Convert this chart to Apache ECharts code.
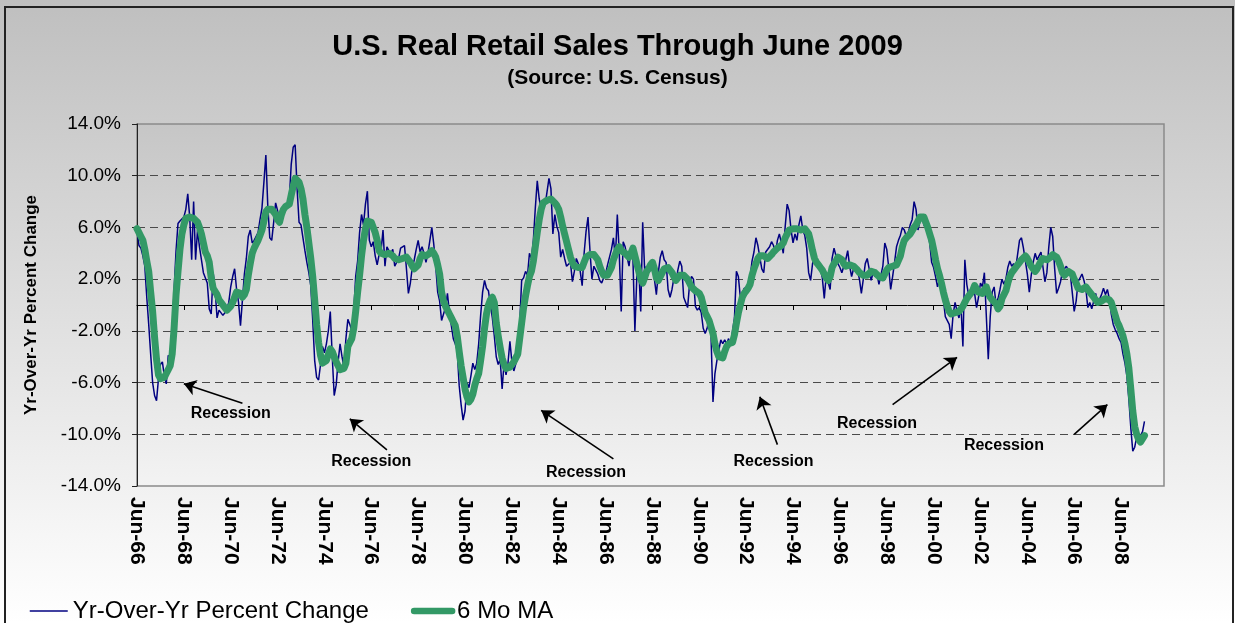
<!DOCTYPE html>
<html>
<head>
<meta charset="utf-8">
<title>U.S. Real Retail Sales Through June 2009</title>
<script src="https://cdn.jsdelivr.net/npm/echarts@6/dist/echarts.min.js"></script>
<style>
  html, body { margin: 0; padding: 0; background: #fff; }
  #chart { width: 1235px; height: 623px; }
</style>
</head>
<body>
<div id="chart"></div>
<script>
// monthly data, Jun-66 .. Jun-09 (one row = one year starting in June)
const yoyChange = [
  5.8, 4.6, 4.4, 3.8, 3.0, 0.6, -1.5, -3.8, -6.0, -7.0, -7.4, -5.7,
  -4.6, -4.4, -5.5, -6.1, -3.9, -4.2, -2.5, 1.2, 4.2, 6.3, 6.5, 6.4,
  6.8, 7.4, 8.6, 6.8, 3.5, 8.0, 3.5, 5.8, 4.5, 3.5, 2.5, 2.5,
  1.7, -0.3, -0.7, 2.5, 1.2, -1.0, -0.4, -0.3, -0.8, -0.6, -0.3, 0.2,
  1.4, 2.2, 2.8, 1.2, 0.2, -1.6, 0.4, 2.4, 3.6, 5.3, 5.8, 4.8,
  5.0, 5.0, 5.6, 6.6, 7.5, 9.5, 11.6, 7.6, 5.2, 5.0, 6.4, 7.9,
  7.3, 6.3, 7.2, 7.5, 7.8, 7.6, 8.2, 10.9, 12.2, 12.4, 9.0, 6.4,
  6.2, 5.2, 4.2, 3.3, 2.5, 1.5, -1.2, -4.3, -5.6, -5.8, -4.6, -3.2,
  -3.7, -3.0, -2.0, -0.5, -4.0, -7.0, -6.2, -4.4, -3.0, -4.0, -4.8, -2.6,
  -1.1, -1.5, -2.0, -0.5, 2.2, 3.4, 5.6, 7.0, 6.2, 7.8, 8.8, 5.0,
  4.5, 4.9, 3.8, 3.1, 3.9, 4.2, 5.8, 3.0, 4.5, 4.2, 4.0, 4.3,
  3.0, 2.9, 3.6, 4.4, 4.5, 4.6, 2.8, 0.9, 1.7, 2.9, 3.5, 4.3,
  5.0, 4.1, 4.5, 4.0, 3.3, 4.0, 5.0, 6.0, 4.7, 3.0, 1.0, 0.3,
  -1.2, -1.3, -0.2, 0.9, -0.6, -1.6, -2.6, -3.0, -3.5, -6.2, -7.7, -8.9,
  -8.2, -6.0, -6.4, -5.5, -4.5, -5.0, -4.5, -3.0, -0.8, 1.0, 1.9, 1.3,
  1.1, 0.0, -1.0, -2.4, -4.0, -4.6, -4.2, -6.5, -4.5, -5.4, -4.5, -2.8,
  -4.4, -5.1, -5.2, -4.0, -1.5, 1.9, 2.1, 2.6, 2.3, 4.0, 3.6, 5.0,
  7.5, 9.6, 8.2, 7.4, 7.9, 7.7, 7.6, 9.8, 9.0, 5.5, 7.0, 6.1,
  5.6, 3.7, 4.3, 3.6, 3.0, 2.9, 3.3, 1.8, 2.6, 3.6, 3.2, 2.6,
  1.5, 4.0, 5.7, 6.8, 4.2, 2.0, 3.0, 2.7, 2.4, 1.9, 1.7, 2.1,
  2.4, 3.1, 3.2, 4.3, 5.2, 3.6, 7.0, 4.0, -0.5, 4.9, 4.5, 3.7,
  3.0, 4.3, 3.6, -2.0, 2.2, 2.8, -0.5, 6.4, 2.7, 3.0, 2.5, 2.8,
  3.3, 2.0, 0.8, 2.5, 3.7, 4.2, 3.5, 3.3, 1.2, 0.6, 1.2, 2.1,
  1.7, 2.7, 3.4, 3.0, 0.6, 0.2, -0.2, 1.6, 2.2, 2.0, -0.1, -0.4,
  -0.2, -0.6, -1.8, -2.2, -1.8, -1.0, -2.4, -7.5, -5.3, -4.3, -3.5, -2.7,
  -3.0, -2.7, -3.0, -2.6, -3.1, -3.0, -1.0, 2.6, 2.2, 0.6, 0.9, 1.3,
  1.2, 1.3, 2.1, 3.4, 4.1, 5.2, 4.6, 4.5, 2.8, 2.5, 4.1, 4.2,
  4.5, 4.9, 4.6, 4.0, 5.0, 5.5, 4.8, 4.0, 6.1, 7.8, 7.3, 5.8,
  4.8, 5.5, 5.0, 6.2, 6.9, 5.8, 5.4, 4.4, 2.5, 1.9, 3.2, 3.8,
  3.5, 3.4, 2.8, 2.1, 0.5, 2.3, 2.3, 1.2, 3.6, 4.4, 4.3, 3.2,
  2.9, 2.5, 2.6, 3.5, 4.2, 3.0, 2.2, 2.8, 3.1, 2.7, 2.0, 0.9,
  2.0, 3.2, 3.6, 2.8, 1.9, 2.5, 2.2, 2.4, 1.6, 1.5, 3.0, 4.8,
  4.3, 2.9, 1.2, 2.2, 3.3, 4.5, 5.0, 5.4, 6.0, 5.8, 5.3, 5.6,
  6.2, 6.6, 8.0, 7.4, 5.8, 6.5, 7.0, 6.2, 6.0, 5.6, 4.8, 3.3,
  2.9, 2.2, 1.4, 2.0, 1.4, 0.4, -0.9, -1.0, -1.5, -2.6, -0.7, 0.2,
  -0.5, -1.0, 0.0, -3.2, 3.5, 1.6, 0.7, 1.2, 1.4, 0.9, -0.2, 0.6,
  1.7, 1.4, 2.5, 2.6, -4.2, -0.9, 1.0, 1.4, 0.0, 0.5, 1.2, 2.0,
  1.6, 2.0, 2.9, 3.4, 3.0, 3.2, 2.8, 3.9, 5.0, 5.2, 4.4, 4.4,
  2.4, 1.0, 2.3, 3.3, 4.0, 3.5, 3.8, 4.1, 4.0, 1.8, 2.5, 4.5,
  6.0, 5.3, 2.8, 0.9, 1.3, 1.8, 2.6, 2.5, 3.0, 2.9, 2.4, 1.0,
  -0.5, 0.3, 1.8, 1.8, 2.4, 1.9, 1.2, -0.2, 0.2, -0.3, -0.2, 0.9,
  0.1, 0.2, 0.8, 1.3, 0.8, 1.2, 0.5, -0.7, -1.5, -1.9, -2.2, -2.6,
  -2.9, -3.8, -4.5, -5.5, -7.3, -9.5, -11.3, -11.0, -10.2, -10.5, -10.1, -9.8,
  -9.0
]

const movingAvg6 = [
  5.9, 5.6, 5.3, 5.0, 4.3, 3.4, 2.6, 1.0, -0.5, -2.5, -4.2, -5.4,
  -5.7, -5.8, -5.6, -5.3, -5.0, -4.7, -3.8, -1.8, 0.8, 2.6, 4.3, 5.5,
  6.2, 6.7, 6.8, 6.8, 6.8, 6.7, 6.6, 6.4, 6.0, 5.5, 4.8, 4.1,
  3.8, 3.3, 2.1, 1.3, 1.2, 0.8, 0.4, 0.2, 0.1, -0.2, -0.4, -0.4,
  -0.1, 0.2, 0.6, 1.0, 1.1, 0.9, 0.6, 0.8, 1.2, 2.3, 3.2, 4.0,
  4.4, 4.7, 5.0, 5.4, 5.8, 6.5, 7.2, 7.4, 7.5, 7.4, 7.2, 7.0,
  6.6, 6.4, 7.0, 7.4, 7.6, 7.7, 7.8, 8.5, 9.2, 9.8, 9.7, 9.5,
  9.0, 8.2, 7.0, 6.0, 4.8, 3.6, 2.2, 0.4, -1.5, -2.9, -3.9, -4.5,
  -4.5, -4.3, -3.8, -3.4, -3.6, -4.0, -4.4, -4.7, -5.0, -5.1, -4.9, -4.5,
  -3.2, -2.9, -2.6, -1.8, -0.5, 1.0, 2.3, 3.8, 5.0, 5.9, 6.5, 6.6,
  6.4, 6.0, 5.6, 5.0, 4.2, 4.0, 4.1, 3.9, 3.8, 4.0, 4.0, 3.8,
  3.6, 3.5, 3.5, 3.5, 3.6, 3.6, 3.7, 3.6, 3.3, 3.0, 2.8, 2.7,
  3.1, 3.6, 3.9, 3.9, 3.8, 3.9, 4.0, 4.2, 4.0, 3.7, 3.1, 2.4,
  1.0, 0.3, -0.1, -0.4, -0.7, -1.0, -1.3, -1.6, -2.4, -3.6, -4.7, -5.6,
  -6.5, -7.1, -7.5, -7.3, -6.9, -6.2, -5.7, -5.3, -4.3, -3.2, -1.8, -0.7,
  0.0, 0.4, 0.6, 0.2, -1.4, -2.4, -3.3, -4.1, -4.6, -4.9, -4.9, -4.8,
  -4.6, -4.4, -4.3, -3.8, -2.6, -1.4, -0.2, 0.7, 1.5, 2.2, 2.6, 3.4,
  4.5, 5.6, 6.6, 7.4, 7.9, 8.0, 8.1, 8.2, 8.2, 8.1, 7.9, 7.7,
  7.4, 6.8, 6.1, 5.5, 4.9, 4.3, 3.7, 3.3, 3.0, 2.9, 2.9, 2.9,
  2.9, 3.3, 3.7, 3.8, 3.9, 4.0, 3.9, 3.8, 3.5, 3.0, 2.6, 2.3,
  2.3, 2.3, 2.4, 2.9, 3.5, 3.9, 4.3, 4.5, 4.2, 4.1, 4.0, 3.9,
  3.7, 4.0, 4.4, 3.8, 3.2, 2.6, 2.0, 1.7, 2.1, 2.6, 2.8, 3.1,
  3.3, 2.8, 2.1, 1.9, 2.2, 2.5, 2.8, 2.9, 2.9, 2.8, 2.5, 2.2,
  1.9, 2.0, 2.3, 2.4, 2.3, 2.2, 2.0, 1.7, 1.4, 1.3, 1.1, 1.0,
  0.9, 0.6, 0.0, -0.6, -0.9, -1.2, -1.7, -2.2, -3.0, -3.6, -4.0, -4.1,
  -4.1, -3.6, -3.2, -3.0, -2.9, -2.9, -2.3, -1.4, -0.6, 0.0, 0.6, 0.9,
  1.1, 1.3, 1.6, 2.3, 2.8, 3.2, 3.6, 3.8, 3.8, 3.8, 3.7, 3.6,
  3.7, 3.9, 4.1, 4.2, 4.4, 4.5, 4.6, 4.8, 5.2, 5.5, 5.8, 5.9,
  5.9, 5.9, 5.9, 5.9, 5.8, 5.8, 5.9, 5.8, 5.5, 4.9, 4.2, 3.6,
  3.3, 3.1, 2.9, 2.7, 2.4, 2.1, 1.9, 2.2, 2.9, 3.2, 3.4, 3.7,
  3.7, 3.5, 3.2, 3.0, 3.1, 3.1, 3.0, 3.0, 2.9, 2.7, 2.5, 2.4,
  2.3, 2.3, 2.3, 2.4, 2.6, 2.6, 2.5, 2.4, 2.2, 2.1, 2.1, 2.4,
  2.7, 2.9, 3.0, 3.0, 3.0, 3.1, 3.2, 3.8, 4.5, 5.0, 5.2, 5.3,
  5.5, 5.6, 6.0, 6.2, 6.5, 6.8, 6.9, 6.8, 6.4, 6.0, 5.5, 5.0,
  4.3, 3.5, 2.8, 2.3, 1.7, 1.0, 0.4, -0.1, -0.5, -0.7, -0.7, -0.6,
  -0.6, -0.5, -0.3, -0.1, 0.2, 0.5, 0.7, 0.9, 1.1, 1.5, 1.5, 1.0,
  0.9, 0.9, 1.2, 1.4, 0.9, 0.6, 0.4, 0.3, 0.1, -0.3, -0.1, 0.5,
  0.8, 1.1, 1.7, 2.2, 2.5, 2.7, 2.9, 3.1, 3.3, 3.5, 3.6, 3.8,
  3.6, 3.3, 3.0, 2.8, 2.6, 2.8, 3.1, 3.4, 3.6, 3.6, 3.5, 3.5,
  3.7, 3.9, 3.9, 3.7, 3.4, 3.0, 2.5, 2.3, 2.3, 2.6, 2.6, 2.4,
  2.0, 1.7, 1.3, 1.2, 1.2, 1.3, 1.4, 1.2, 1.1, 0.8, 0.6, 0.4,
  0.2, 0.1, 0.3, 0.4, 0.5, 0.5, 0.4, 0.2, -0.3, -0.8, -1.3, -1.6,
  -2.0, -2.4, -3.0, -3.8, -4.9, -6.5, -8.2, -9.4, -10.0, -10.4, -10.6, -10.5,
  -10.1
]

// category axis: one slot per month from Jun-66, axis runs a little past Jun-09
const monthNames = ['Jan', 'Feb', 'Mar', 'Apr', 'May', 'Jun', 'Jul', 'Aug', 'Sep', 'Oct', 'Nov', 'Dec']
const firstYear = 1966
const firstMonth = 5
const axisMonths = 527
const labelEvery = 24

const months = []
for (let k = 0; k < axisMonths; k++) {
  const m = (firstMonth + k) % 12
  const y = (firstYear + Math.floor((firstMonth + k) / 12)) % 100
  months.push(monthNames[m] + '-' + String(y).padStart(2, '0'))
}

// "Recession" notes: [month index, percent]
const noteText = [[48, -8.4], [120, -12.1], [230, -13.0], [326, -12.1], [379, -9.2], [444, -10.9]]
const noteArrowFrom = [[54, -7.6], [128, -11.2], [244, -11.9], [328, -10.8], [387, -7.7], [480, -10.0]]
const noteArrowTo = [[24, -6.1], [109, -8.8], [207, -8.15], [319, -7.1], [420, -4.05], [497, -7.7]]

const font = 'Liberation Sans, Arial, sans-serif'

const chart = echarts.init(document.getElementById('chart'))

const option = {
  animation: false,
  backgroundColor: {
    type: 'linear', x: 0, y: 0, x2: 0, y2: 1,
    colorStops: [{ offset: 0, color: '#bfbfbf' }, { offset: 1, color: '#ffffff' }],
  },
  textStyle: { fontFamily: font },
  title: {
    text: 'U.S. Real Retail Sales Through June 2009',
    subtext: '(Source: U.S. Census)',
    left: 'center',
    top: 27,
    itemGap: 7,
    textStyle: { fontFamily: font, fontSize: 29, fontWeight: 'bold', color: '#000' },
    subtextStyle: { fontFamily: font, fontSize: 21, fontWeight: 'bold', color: '#000' },
  },
  graphic: [
    {
      type: 'rect',
      shape: { x: 5, y: 7, width: 1228, height: 640 },
      style: { fill: 'none', stroke: '#222', lineWidth: 2 },
      silent: true,
    },
  ],
  legend: {
    left: 24,
    top: 594,
    itemWidth: 38,
    itemHeight: 14,
    itemGap: 42,
    itemStyle: { opacity: 0 },
    data: [
      { name: 'Yr-Over-Yr Percent Change', lineStyle: { width: 1.5 } },
      { name: '6 Mo MA', lineStyle: { width: 6.5, cap: 'round' } },
    ],
    textStyle: { fontFamily: font, fontSize: 24, color: '#000' },
  },
  grid: {
    left: 137,
    right: 71,
    top: 124,
    bottom: 137,
    show: true,
    borderColor: '#8a8a8a',
    borderWidth: 1.5,
    backgroundColor: {
      type: 'linear', x: 0, y: 0, x2: 0, y2: 1,
      colorStops: [{ offset: 0, color: '#c6c6c6' }, { offset: 1, color: '#f3f3f3' }],
    },
  },
  xAxis: [
    {
      type: 'category',
      data: months,
      boundaryGap: false,
      position: 'bottom',
      axisLine: { show: false, onZero: false },
      axisTick: { show: false },
      splitLine: { show: false },
      axisLabel: {
        interval: labelEvery - 1,
        rotate: -90,
        margin: 11,
        fontFamily: font,
        fontSize: 21,
        fontWeight: 'bold',
        color: '#000',
      },
    },
    {
      type: 'category',
      data: months,
      boundaryGap: false,
      position: 'bottom',
      axisLine: { show: true, onZero: true, lineStyle: { color: '#000', width: 1 } },
      axisTick: { show: true, interval: labelEvery - 1, length: 5, lineStyle: { color: '#000' } },
      axisLabel: { show: false },
      splitLine: { show: false },
    },
  ],
  yAxis: {
    type: 'value',
    min: -14,
    max: 14,
    interval: 4,
    name: 'Yr-Over-Yr Percent Change',
    nameLocation: 'middle',
    nameGap: 97,
    nameTextStyle: { fontFamily: font, fontSize: 17, fontWeight: 'bold', color: '#000' },
    axisLine: { show: true, lineStyle: { color: '#222', width: 1 } },
    axisTick: { show: true, length: 5, lineStyle: { color: '#222' } },
    axisLabel: {
      margin: 16,
      fontFamily: font,
      fontSize: 19,
      color: '#000',
      formatter: (v) => v.toFixed(1) + '%',
    },
    splitLine: {
      show: true,
      showMinLine: false,
      showMaxLine: false,
      lineStyle: { color: '#4a4a4a', width: 1, type: [8, 5] },
    },
  },
  series: [
    {
      name: 'Yr-Over-Yr Percent Change',
      type: 'line',
      data: yoyChange,
      symbol: 'none',
      lineStyle: { color: '#000080', width: 1.5 },
      itemStyle: { color: '#000080' },
      z: 2,
      markLine: {
        silent: true,
        symbol: ['none', 'arrow'],
        symbolSize: 12,
        label: { show: false },
        lineStyle: { color: '#000', width: 1.6, type: 'solid' },
        data: noteArrowFrom.map((p, k) => [
          { coord: [months[p[0]], p[1]] },
          { coord: [months[noteArrowTo[k][0]], noteArrowTo[k][1]] },
        ]),
      },
      markPoint: {
        silent: true,
        symbol: 'rect',
        symbolSize: 1,
        itemStyle: { color: 'rgba(0,0,0,0)' },
        label: {
          show: true,
          position: 'inside',
          formatter: 'Recession',
          fontFamily: font,
          fontSize: 16,
          fontWeight: 'bold',
          color: '#000',
        },
        data: noteText.map((p) => ({ coord: [months[p[0]], p[1]] })),
      },
    },
    {
      name: '6 Mo MA',
      type: 'line',
      data: movingAvg6,
      symbol: 'none',
      lineStyle: { color: '#339966', width: 7, cap: 'round', join: 'round' },
      itemStyle: { color: '#339966' },
      z: 3,
    },
  ],
}

chart.setOption(option)
</script>
</body>
</html>
